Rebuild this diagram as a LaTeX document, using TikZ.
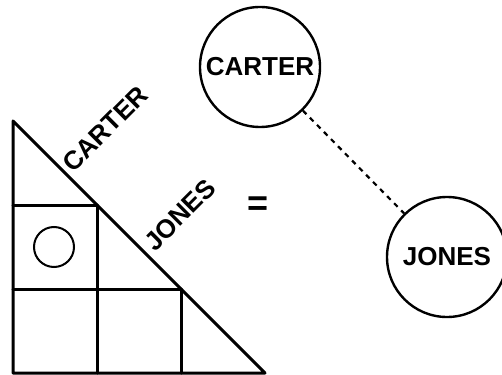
\documentclass[tikz,border=0pt]{standalone}
\usepackage{fontspec}
\setmainfont{Liberation Sans}
\usepackage{tikz}
\tikzset{>=latex}
\usetikzlibrary{arrows.meta}
\def\cell{84}

\tikzset{
    gridline/.style = {line width = 3pt, line cap = round, line join = round},
    namecircle/.style = {circle, draw = black, line width = 2.4pt, minimum size = 120pt, inner sep = 0pt,
                         font = \fontsize{26}{30}\selectfont\bfseries},
    nametag/.style = {inner sep = 0pt, rotate = 45, font = \fontsize{26}{30}\selectfont\bfseries},
    tieline/.style = {line width = 2.2pt, dash pattern = {on 5pt off 5pt}}
}

\begin{document}
\begin{tikzpicture}[x=1pt, y=-1pt]

    \useasboundingbox (0, 0) rectangle (502, 374);

    % triangle with its cells
    \draw[gridline] (13, 121) -- (13, 373) -- (265, 373) -- cycle;
    \foreach \k in {1, 2}{
        \draw[gridline] (13, 373 - \cell * \k) -- (13 + \cell * 3 - \cell * \k, 373 - \cell * \k);
        \draw[gridline] (13 + \cell * \k, 373) -- (13 + \cell * \k, 121 + \cell * \k);
    }
    \draw[line width = 2pt] (54, 247) circle[radius = 20pt];

    \node[nametag] (cartertag) at (105, 129) {CARTER};
    \node[nametag] (jonestag) at (180, 215) {JONES};

    \node[font = \fontsize{36}{40}\selectfont\bfseries] (equals) at (258, 206) {=};

    % the two persons
    \node[namecircle] (carter) at (260, 67) {CARTER};
    \node[namecircle] (jones) at (447, 257) {JONES};
    \draw[tieline] (carter) -- (jones);

\end{tikzpicture}
\end{document}
